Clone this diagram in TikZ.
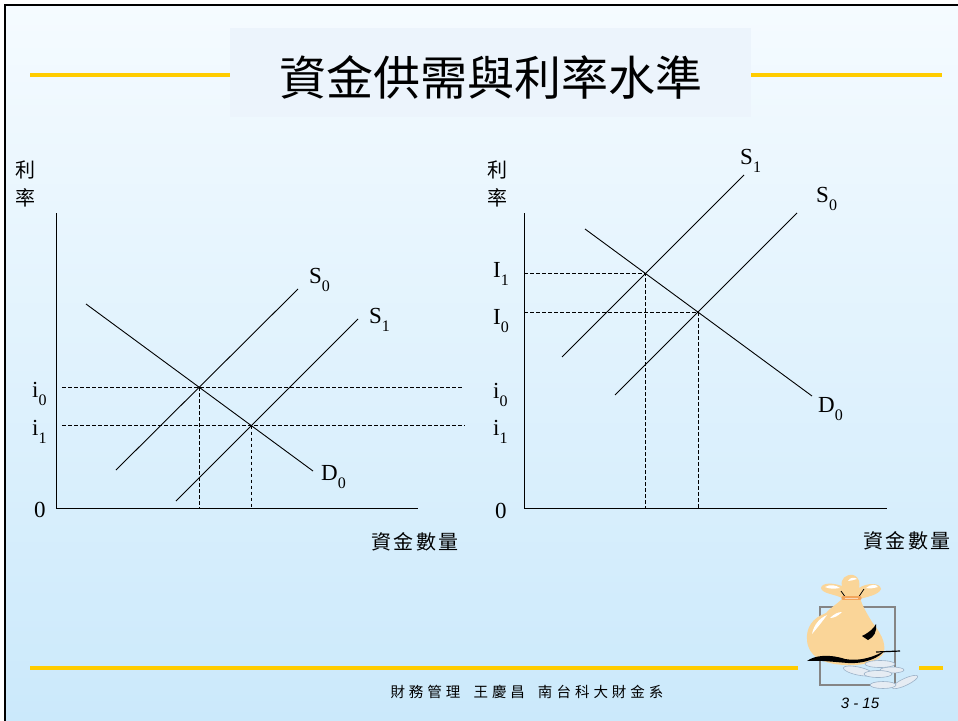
\documentclass[tikz,border=0pt]{standalone}
\usepackage{fontspec}
\setmainfont{Liberation Serif}
\newfontfamily\cjk{Noto Sans CJK TC}
\newfontfamily\arialit{Liberation Sans}
\definecolor{bgtop}{HTML}{F5FBFF}
\definecolor{bgbot}{HTML}{CBE9FB}
\definecolor{titlebox}{HTML}{ECF4FC}
\definecolor{gold}{HTML}{FFCC00}
\definecolor{bagfill}{HTML}{FAD598}
\definecolor{tiecol}{HTML}{F2A55C}
\definecolor{coinfill}{HTML}{E6ECF3}
\definecolor{coinedge}{HTML}{9DB3C9}
\definecolor{framegrey}{HTML}{858585}
% label with a lowered index, e.g. S_0
\newcommand\sublbl[2]{#1\raisebox{-0.36em}{\fontsize{16pt}{16pt}\selectfont #2}}
\begin{document}
\begin{tikzpicture}[x=1pt,y=-1pt,
  curve/.style={line width=0.9pt},
  axisline/.style={line width=1pt},
  guide/.style={line width=0.8pt,dash pattern=on 3.5pt off 2.5pt},
  lbl/.style={font=\fontsize{23pt}{23pt}\selectfont,inner sep=0pt,anchor=base west},
  cjklbl/.style={font=\cjk\fontsize{20pt}{20pt}\selectfont,inner sep=0pt},
  goldline/.style={gold,line width=4pt},
  coin/.style={fill=coinfill,draw=coinedge,line width=0.6pt}]
\useasboundingbox (0,0) rectangle (958,720);
\fill[white] (0,0) rectangle (958,720);
\shade[top color=bgtop,bottom color=bgbot] (5,5) rectangle (958,720);
\draw[line width=2pt] (5,5) rectangle (975,740);

% title band
\draw[goldline] (30,75) -- (230,75);
\draw[goldline] (751,75) -- (942,75);
\fill[titlebox] (230,28) rectangle (751,117);
\node[font=\cjk\fontsize{47pt}{47pt}\selectfont,inner sep=0pt] (title) at (491,77) {資金供需與利率水準};

% ---------- left diagram ----------
\coordinate (LO) at (56,508);
\coordinate (LYtop) at (56,213);
\coordinate (LXend) at (418,508);
\draw[axisline] (LYtop) -- (LO) -- (LXend);
\coordinate (LD0a) at (86,304);   \coordinate (LD0b) at (313,471);
\coordinate (LS0a) at (116,470);  \coordinate (LS0b) at (298,289);
\coordinate (LS1a) at (176,501);  \coordinate (LS1b) at (358,319);
\draw[curve] (LD0a) -- (LD0b);
\draw[curve] (LS0a) -- (LS0b);
\draw[curve] (LS1a) -- (LS1b);
\coordinate (LE0) at (intersection of LD0a--LD0b and LS0a--LS0b);
\coordinate (LE1) at (intersection of LD0a--LD0b and LS1a--LS1b);
\coordinate (Li0a) at (62,387);  \coordinate (Li0b) at (462,387);
\coordinate (Li1a) at (62,425);  \coordinate (Li1b) at (465,425);
\draw[guide] (Li0a) -- (Li0b);
\draw[guide] (Li1a) -- (Li1b);
\draw[guide] (LE0) -- (LE0 |- LO);
\draw[guide] (LE1) -- (LE1 |- LO);
\node[lbl] (lS0) at (309,283) {\sublbl{S}{0}};
\node[lbl] (lS1) at (369,323) {\sublbl{S}{1}};
\node[lbl] (lD0) at (321,480) {\sublbl{D}{0}};
\node[lbl] (li0) at (32,397) {\sublbl{i}{0}};
\node[lbl] (li1) at (32,435) {\sublbl{i}{1}};
\node[lbl] (lzero) at (34,517) {0};
\node[cjklbl] (lli) at (25,170) {利};
\node[cjklbl] (llv) at (25,198) {率};
\node[cjklbl] (lqty) at (415,542) {資\hspace{2.5pt}金\hspace{2.5pt}數\hspace{2.5pt}量};

% ---------- right diagram ----------
\coordinate (RO) at (524,508);
\coordinate (RYtop) at (524,213);
\coordinate (RXend) at (887,508);
\draw[axisline] (RYtop) -- (RO) -- (RXend);
\coordinate (RD0a) at (585,229);  \coordinate (RD0b) at (812,396);
\coordinate (RS1a) at (562,357);  \coordinate (RS1b) at (744,175);
\coordinate (RS0a) at (615,395);  \coordinate (RS0b) at (797,213);
\draw[curve] (RD0a) -- (RD0b);
\draw[curve] (RS1a) -- (RS1b);
\draw[curve] (RS0a) -- (RS0b);
\coordinate (RE1) at (intersection of RD0a--RD0b and RS1a--RS1b);
\coordinate (RE0) at (intersection of RD0a--RD0b and RS0a--RS0b);
\draw[guide] (RE1 -| RO) -- (RE1) -- (RE1 |- RO);
\draw[guide] (RE0 -| RO) -- (RE0) -- (RE0 |- RO);
\node[lbl] (rS1) at (740,164) {\sublbl{S}{1}};
\node[lbl] (rS0) at (816,202) {\sublbl{S}{0}};
\node[lbl] (rD0) at (818,412) {\sublbl{D}{0}};
\node[lbl] (rI1) at (493,277) {\sublbl{I}{1}};
\node[lbl] (rI0) at (493,324) {\sublbl{I}{0}};
\node[lbl] (ri0) at (493,398) {\sublbl{i}{0}};
\node[lbl] (ri1) at (493,435) {\sublbl{i}{1}};
\node[lbl] (rzero) at (495,518) {0};
\node[cjklbl] (rli) at (497,170) {利};
\node[cjklbl] (rlv) at (497,198) {率};
\node[cjklbl] (rqty) at (907,541) {資\hspace{2.5pt}金\hspace{2.5pt}數\hspace{2.5pt}量};

% ---------- footer ----------
\draw[goldline] (30,668) -- (798,668);
\draw[goldline] (919,668) -- (943,668);
\node[font=\cjk\fontsize{14.5pt}{14.5pt}\selectfont,inner sep=0pt] (foot) at (527,692)
  {財\hspace{4pt}務\hspace{4pt}管\hspace{4pt}理\hspace{13pt}王\hspace{4pt}慶\hspace{4pt}昌\hspace{13pt}南\hspace{4pt}台\hspace{4pt}科\hspace{4pt}大\hspace{4pt}財\hspace{4pt}金\hspace{4pt}系};
\node[font=\arialit\itshape\fontsize{15pt}{15pt}\selectfont,inner sep=0pt] (page) at (860,703) {3 - 15};

% money bag clip art
\draw[framegrey,line width=2.5pt] (820,607) rectangle (895,685);
% bag body
\fill[bagfill] (843,598) .. controls (836,605) and (830,608) .. (826,613)
  .. controls (812,618) and (806,628) .. (807,640)
  .. controls (808,656) and (822,664) .. (845,665)
  .. controls (862,666) and (880,662) .. (884,652)
  .. controls (886,642) and (880,632) .. (872,622)
  .. controls (866,612) and (862,605) .. (860,598) -- cycle;
% gathered top of the bag
\fill[bagfill] (844,599) .. controls (836,594) and (822,594) .. (821,588)
  .. controls (822,582) and (834,583) .. (842,586)
  .. controls (840,579) and (846,574) .. (853,575)
  .. controls (860,577) and (860,584) .. (859,588)
  .. controls (866,583) and (880,582) .. (881,589)
  .. controls (879,595) and (866,597) .. (860,599) -- cycle;
% highlights
\fill[white] (825,587) .. controls (830,584) and (836,585) .. (840,588) .. controls (834,589) and (829,589) .. cycle;
\fill[white] (848,581) .. controls (850,577) and (855,577) .. (857,579) .. controls (853,580) and (851,581) .. cycle;
\fill[white] (866,588) .. controls (870,584) and (877,584) .. (878,587) .. controls (874,588) and (870,589) .. cycle;
\fill[white] (812,634) .. controls (814,624) and (820,618) .. (827,615) .. controls (822,622) and (817,628) .. cycle;
\fill[white] (830,618) .. controls (834,614) and (838,612) .. (842,612) .. controls (838,616) and (834,618) .. cycle;
% creases and shadow
\draw[black,line width=0.8pt] (846,598) -- (841,591);
\draw[black,line width=0.8pt] (858,598) -- (864,589);
\fill[black] (862,636) .. controls (870,632) and (874,628) .. (876,624)
  .. controls (877,632) and (874,637) .. (868,640) -- cycle;
\fill[black] (807,661) .. controls (815,655) and (830,654) .. (845,659)
  .. controls (860,662) and (876,656) .. (884,651)
  .. controls (880,657) and (866,664) .. (848,663)
  .. controls (835,662) and (818,660) .. cycle;
\draw[black,line width=1.2pt] (876,652) -- (900,651);
% tie
\draw[tiecol,line width=3.2pt,line cap=round] (843,598) -- (860,598);
\draw[white!55!tiecol,line width=1pt] (845,598) -- (858,598);
% coins
\draw[coin,rotate around={-12:(858,671)}] (858,671) ellipse (15 and 4);
\draw[coin] (880,664) ellipse (15 and 3.5);
\draw[coin] (892,670) ellipse (12 and 3);
\draw[coin] (878,674) ellipse (14 and 3.5);
\draw[coin,rotate around={25:(905,682)}] (905,682) ellipse (14 and 3.5);
\draw[coin] (883,685) ellipse (13 and 3.5);
\end{tikzpicture}
\end{document}
